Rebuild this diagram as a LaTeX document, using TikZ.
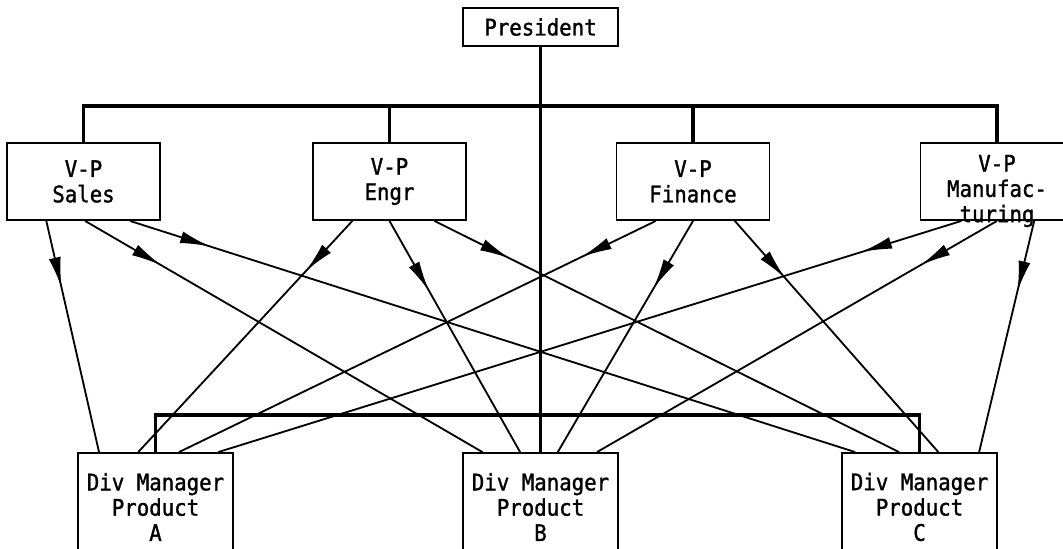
\documentclass[tikz,border=0pt]{standalone}
\usepackage{fontspec}
\newfontfamily\typewr[FakeBold=1.3,FakeStretch=0.91]{DejaVu Sans Mono}
\usetikzlibrary{arrows.meta,calc,decorations.markings}

\tikzset{
  lbl/.style={align=center, font=\typewr\fontsize{16.2}{18}\selectfont, inner sep=0pt},
  box/.style={lbl, draw, line width=1.3pt},
  vpbox/.style={box, minimum width=3.825cm, minimum height=1.925cm},
  divbox/.style={box, minimum width=3.875cm, minimum height=2.7cm},
  orgline/.style={line width=2.8pt},
  flow/.style={line width=1.3pt, postaction={decorate},
    decoration={markings, mark=at position #1 with {\arrow{Latex[length=0.75cm,width=0.3cm]}}}},
  flow/.default=2cm
}

\begin{document}
\begin{tikzpicture}[x=0.025cm, y=-0.025cm]
            \useasboundingbox (0,0) rectangle (1063,548);
            \clip (0,0) rectangle (1063,548);

            % Top
            \node[box, minimum width=3.875cm, minimum height=0.95cm] (pres) at (540.5,27) {President};

            % Vice presidents
            \node[vpbox] (sales) at (83.5,181.5) {V-P\\Sales};
            \node[vpbox] (engr) at (389.5,181.5) {V-P\\Engr};
            \node[vpbox] (fin) at (693,181.5) {V-P\\Finance};
            \node[vpbox] (mfg) at (997,181.5) {};
            \node[lbl] (mfgtxt) at (997,191) {V-P\\Manufac-\\turing};

            % Division managers
            \node[divbox] (diva) at (155.5,507) {Div Manager\\Product\\A};
            \node[divbox] (divb) at (540.5,507) {Div Manager\\Product\\B};
            \node[divbox] (divc) at (919.5,507) {Div Manager\\Product\\C};

            % Line organisation
            \coordinate (topbus) at (540,106);
            \coordinate (botbus) at (540,415);
            \draw[orgline] (pres.south) -- (divb.north);
            \draw[orgline] (sales.north) |- (topbus) -| (mfg.north);
            \draw[orgline] (engr.north) -- (engr.north |- topbus);
            \draw[orgline] (fin.north) -- (fin.north |- topbus);
            \draw[orgline] (diva.north) |- (botbus) -| (divc.north);

            % Functional lines
            \draw[flow=1.7cm] ($(sales.south west)!.26!(sales.south east)$) -- ($(diva.north west)!.14!(diva.north east)$);
            \draw[flow=2.2cm] ($(sales.south west)!.51!(sales.south east)$) -- ($(divb.north west)!.13!(divb.north east)$);
            \draw[flow=2.1cm] ($(sales.south west)!.80!(sales.south east)$) -- ($(divc.north west)!.09!(divc.north east)$);

            \draw[flow=1.7cm] ($(engr.south west)!.26!(engr.south east)$) -- ($(diva.north west)!.39!(diva.north east)$);
            \draw[flow=2cm] ($(engr.south west)!.50!(engr.south east)$) -- ($(divb.north west)!.37!(divb.north east)$);
            \draw[flow=2.1cm] ($(engr.south west)!.79!(engr.south east)$) -- ($(divc.north west)!.37!(divc.north east)$);

            \draw[flow=2.05cm] ($(fin.south west)!.26!(fin.south east)$) -- ($(diva.north west)!.65!(diva.north east)$);
            \draw[flow=1.95cm] ($(fin.south west)!.50!(fin.south east)$) -- ($(divb.north west)!.61!(divb.north east)$);
            \draw[flow=1.9cm] ($(fin.south west)!.77!(fin.south east)$) -- ($(divc.north west)!.62!(divc.north east)$);

            \draw[flow=2.6cm] ($(mfg.south west)!.27!(mfg.south east)$) -- ($(diva.north west)!.90!(diva.north east)$);
            \draw[flow=2.2cm] ($(mfg.south west)!.50!(mfg.south east)$) -- ($(divb.north west)!.86!(divb.north east)$);
            \draw[flow=1.8cm] ($(mfg.south west)!.74!(mfg.south east)$) -- ($(divc.north west)!.88!(divc.north east)$);
\end{tikzpicture}
\end{document}
